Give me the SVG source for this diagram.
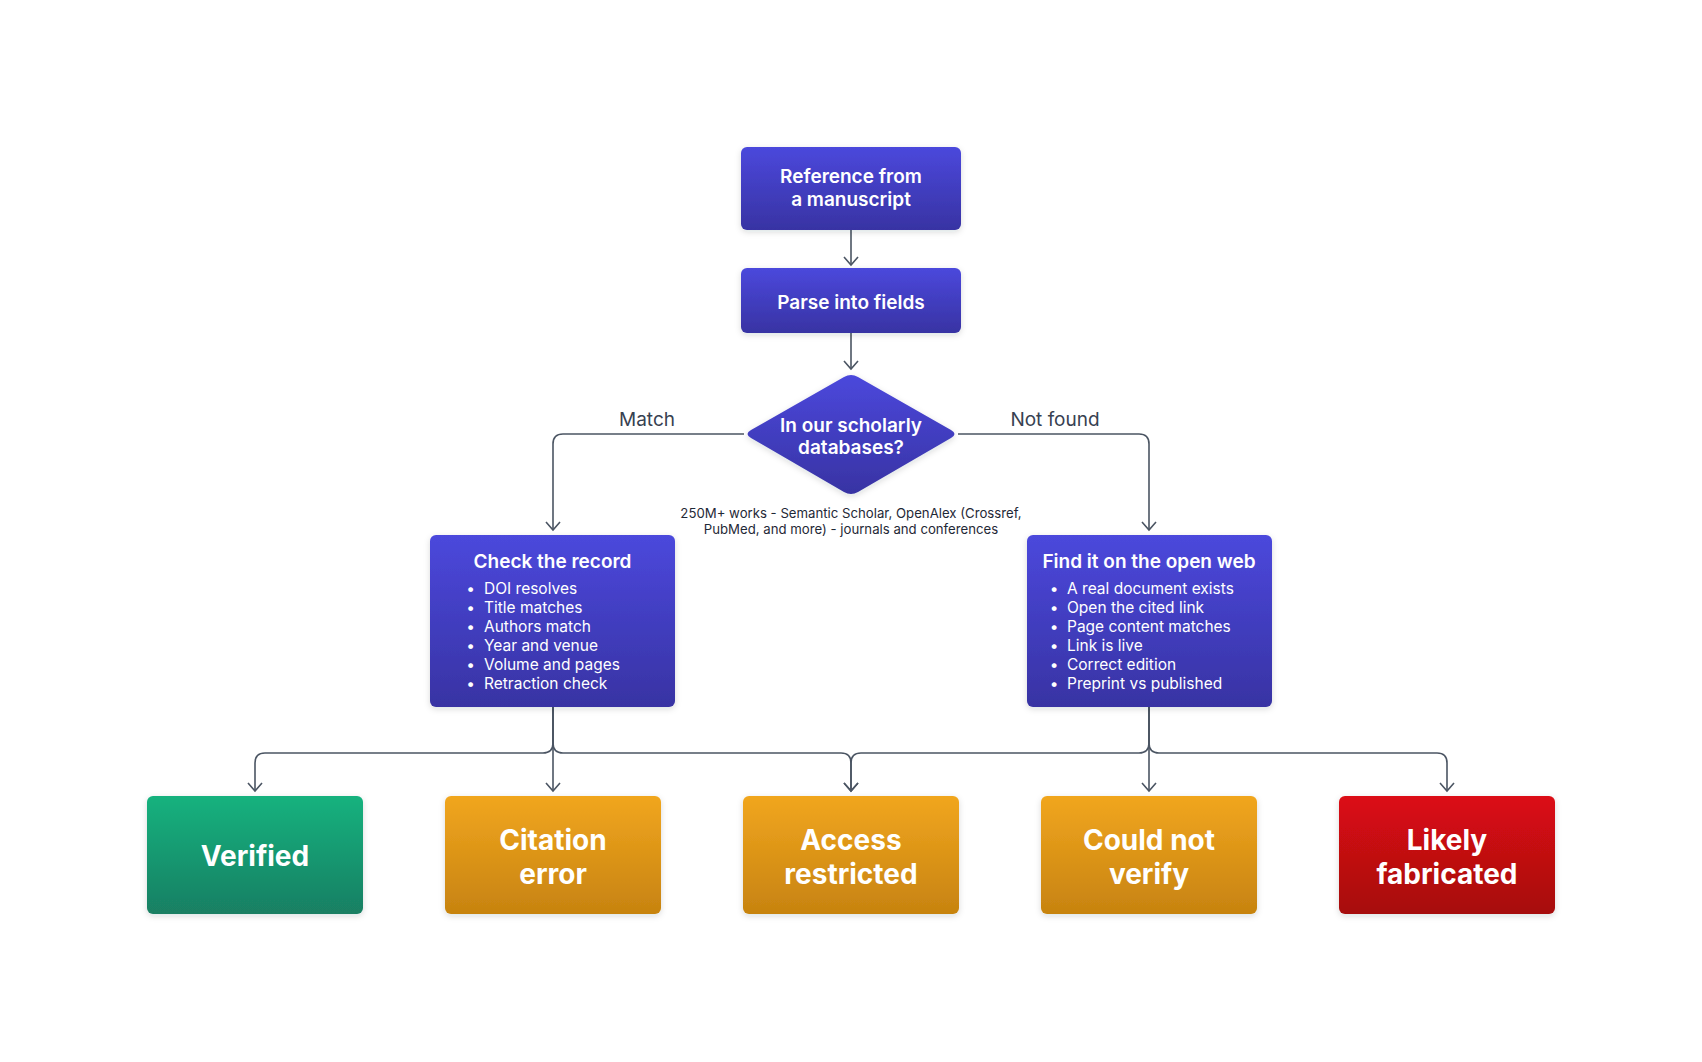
<svg xmlns="http://www.w3.org/2000/svg" width="1702" height="1062" viewBox="0 0 1702 1062">
<style>
.edge{fill:none;stroke:#4b5563;stroke-width:1.6;marker-end:url(#arr)}
.t{font-family:Inter,"Noto Sans","Liberation Sans",sans-serif;fill:#ffffff}
.h{font-size:19px;font-weight:600;text-anchor:middle}
.li{font-size:15.5px;font-weight:400}
.big{font-size:28px;font-weight:700;text-anchor:middle}
.lbl{font-family:Inter,"Noto Sans","Liberation Sans",sans-serif;fill:#374151;font-size:19px;text-anchor:middle}
.note{font-family:Inter,"Noto Sans","Liberation Sans",sans-serif;fill:#1f2937;font-size:13.2px;text-anchor:middle}
</style>
<defs>
<linearGradient id="gBlue" x1="0" y1="0" x2="0" y2="1"><stop offset="0" stop-color="#4b48dc"/><stop offset="1" stop-color="#3833a3"/></linearGradient>
<linearGradient id="gGreen" x1="0" y1="0" x2="0" y2="1"><stop offset="0" stop-color="#12b27e"/><stop offset="1" stop-color="#1a7f63"/></linearGradient>
<linearGradient id="gOrange" x1="0" y1="0" x2="0" y2="1"><stop offset="0" stop-color="#f1a61f"/><stop offset="1" stop-color="#c78310"/></linearGradient>
<linearGradient id="gRed" x1="0" y1="0" x2="0" y2="1"><stop offset="0" stop-color="#dc0a13"/><stop offset="1" stop-color="#a6090f"/></linearGradient>
<filter id="sh" x="-10%" y="-10%" width="120%" height="130%"><feDropShadow dx="0" dy="2" stdDeviation="3" flood-color="#1f2937" flood-opacity="0.15"/></filter>
<marker id="arr" viewBox="-10 -10 20 20" markerWidth="20" markerHeight="20" refX="0" refY="0" orient="auto" markerUnits="userSpaceOnUse">
<path d="M -8 -7 L 0 0 L -8 7" fill="none" stroke="#4b5563" stroke-width="1.6"/>
</marker>
</defs>
<rect width="1702" height="1062" fill="#ffffff"/>
<g id="connectors">
<path class="edge" d="M 851 230 V 265"/>
<path class="edge" d="M 851 333 V 369"/>
<path class="edge" d="M 744 434 H 563 Q 553 434 553 444 V 530"/>
<path class="edge" d="M 958 434 H 1139 Q 1149 434 1149 444 V 530"/>
<path class="edge" d="M 553 707 V 743 Q 553 753 543 753 H 265 Q 255 753 255 763 V 791"/>
<path class="edge" d="M 553 707 V 791"/>
<path class="edge" d="M 553 707 V 743 Q 553 753 563 753 H 841 Q 851 753 851 763 V 791"/>
<path class="edge" d="M 1149 707 V 743 Q 1149 753 1139 753 H 861 Q 851 753 851 763 V 791"/>
<path class="edge" d="M 1149 707 V 791"/>
<path class="edge" d="M 1149 707 V 743 Q 1149 753 1159 753 H 1437 Q 1447 753 1447 763 V 791"/>
<text class="lbl" x="647" y="426">Match</text>
<text class="lbl" x="1055" y="426">Not found</text>
</g>
<g id="reference">
<rect x="741" y="147" width="220" height="83" rx="6" fill="url(#gBlue)" filter="url(#sh)"/>
<text class="t h" x="851" y="183">Reference from</text>
<text class="t h" x="851" y="206">a manuscript</text>
</g>
<g id="parse">
<rect x="741" y="268" width="220" height="65" rx="6" fill="url(#gBlue)" filter="url(#sh)"/>
<text class="t h" x="851" y="309">Parse into fields</text>
</g>
<g id="decision">
<path d="M 858 377 L 951 430 Q 958 434 951 438 L 858 492 Q 851 496 844 492 L 751 438 Q 744 434 751 430 L 844 377 Q 851 373 858 377 Z" fill="url(#gBlue)" filter="url(#sh)"/>
<text class="t h" x="851" y="432">In our scholarly</text>
<text class="t h" x="851" y="454">databases?</text>
<text class="note" x="851" y="518">250M+ works - Semantic Scholar, OpenAlex (Crossref,</text>
<text class="note" x="851" y="534">PubMed, and more) - journals and conferences</text>
</g>
<g id="check">
<rect x="430" y="535" width="245" height="172" rx="6" fill="url(#gBlue)" filter="url(#sh)"/>
<text class="t h" x="552.5" y="568">Check the record</text>
<g class="t li">
<text x="470.5" y="594" text-anchor="middle">•</text><text x="484" y="594">DOI resolves</text>
<text x="470.5" y="613" text-anchor="middle">•</text><text x="484" y="613">Title matches</text>
<text x="470.5" y="632" text-anchor="middle">•</text><text x="484" y="632">Authors match</text>
<text x="470.5" y="651" text-anchor="middle">•</text><text x="484" y="651">Year and venue</text>
<text x="470.5" y="670" text-anchor="middle">•</text><text x="484" y="670">Volume and pages</text>
<text x="470.5" y="689" text-anchor="middle">•</text><text x="484" y="689">Retraction check</text>
</g>
</g>
<g id="openweb">
<rect x="1027" y="535" width="245" height="172" rx="6" fill="url(#gBlue)" filter="url(#sh)"/>
<text class="t h" x="1149" y="568">Find it on the open web</text>
<g class="t li">
<text x="1054" y="594" text-anchor="middle">•</text><text x="1067" y="594">A real document exists</text>
<text x="1054" y="613" text-anchor="middle">•</text><text x="1067" y="613">Open the cited link</text>
<text x="1054" y="632" text-anchor="middle">•</text><text x="1067" y="632">Page content matches</text>
<text x="1054" y="651" text-anchor="middle">•</text><text x="1067" y="651">Link is live</text>
<text x="1054" y="670" text-anchor="middle">•</text><text x="1067" y="670">Correct edition</text>
<text x="1054" y="689" text-anchor="middle">•</text><text x="1067" y="689">Preprint vs published</text>
</g>
</g>
<g id="verified">
<rect x="147" y="796" width="216" height="118" rx="6" fill="url(#gGreen)" filter="url(#sh)"/>
<text class="t big" x="255" y="866">Verified</text>
</g>
<g id="citation">
<rect x="445" y="796" width="216" height="118" rx="6" fill="url(#gOrange)" filter="url(#sh)"/>
<text class="t big" x="553" y="850">Citation</text>
<text class="t big" x="553" y="884">error</text>
</g>
<g id="access">
<rect x="743" y="796" width="216" height="118" rx="6" fill="url(#gOrange)" filter="url(#sh)"/>
<text class="t big" x="851" y="850">Access</text>
<text class="t big" x="851" y="884">restricted</text>
</g>
<g id="couldnot">
<rect x="1041" y="796" width="216" height="118" rx="6" fill="url(#gOrange)" filter="url(#sh)"/>
<text class="t big" x="1149" y="850">Could not</text>
<text class="t big" x="1149" y="884">verify</text>
</g>
<g id="fabricated">
<rect x="1339" y="796" width="216" height="118" rx="6" fill="url(#gRed)" filter="url(#sh)"/>
<text class="t big" x="1447" y="850">Likely</text>
<text class="t big" x="1447" y="884">fabricated</text>
</g>
</svg>
